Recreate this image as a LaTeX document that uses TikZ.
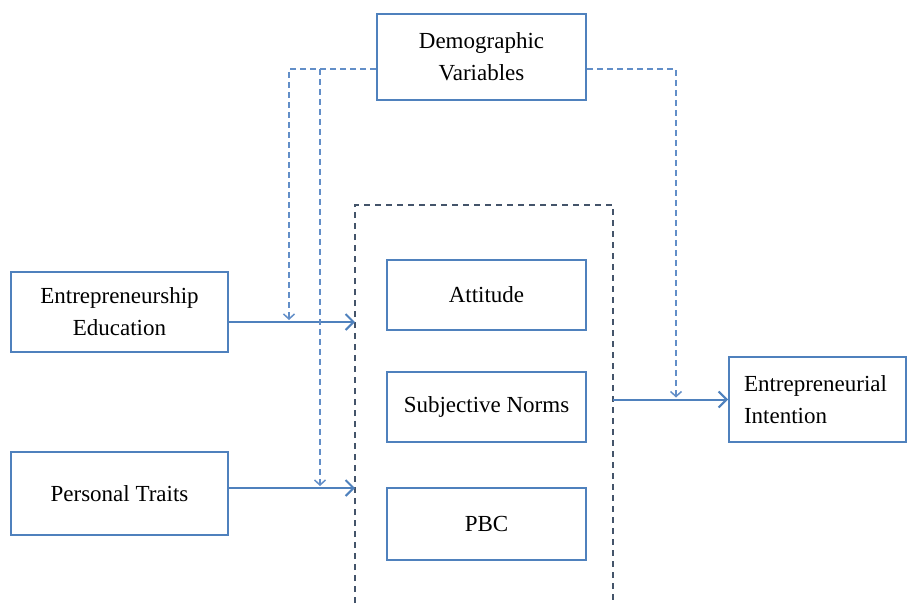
\documentclass[tikz,border=0pt]{standalone}
\usepackage{fontspec}
\setmainfont{Liberation Serif}
\usetikzlibrary{arrows.meta}
\definecolor{boxblue}{RGB}{79,129,189}
\definecolor{linkblue}{RGB}{98,142,200}
\definecolor{slate}{RGB}{68,84,106}
\tikzset{ %inner sep = 0,
  {box/.style} ={draw=boxblue, line width=2pt, fill=white,
                 font=\fontsize{23}{32}\selectfont, align=center, inner sep=0},
  {factor/.style} ={box, minimum width=199pt, minimum height=70pt},
  {flow/.style} ={draw=boxblue, line width=2pt,
                  -{Straight Barb[length=8pt,width=16pt,line width=2pt]}},
  {control/.style} ={draw=linkblue, line width=1.5pt, dash pattern=on 6pt off 4pt,
                     -{Straight Barb[length=5pt,width=11pt,line width=1.5pt]}},
  {frame/.style} ={draw=slate, line width=2pt, dash pattern=on 6pt off 5pt},
}
\begin{document}
\begin{tikzpicture}[x=1pt,y=-1pt]
\useasboundingbox (0,0) rectangle (907,603);
% the dashed frame round the three factors
\draw[frame] (355,603) -- (355,205) -- (613,205) -- (613,603);
\coordinate (eduIn) at (355,322);
\coordinate (traitsIn) at (355,488);
\coordinate (frameOut) at (613,399.5);
\coordinate (eduTie) at (289,320);
\coordinate (traitsTie) at (320,486);
\coordinate (outTie) at (676,397.5);
\coordinate (splitTop) at (320,69);

\node[box, minimum width=209pt, minimum height=86pt] (demo) at (481.5,57) {Demographic\\Variables};
\node[box, minimum width=217pt, minimum height=80pt] (edu) at (119.5,312) {Entrepreneurship\\Education};
\node[box, minimum width=217pt, minimum height=83pt] (traits) at (119.5,493.5) {Personal Traits};
\node[factor] (att) at (486.5,295) {Attitude};
\node[factor] (norms) at (486.5,407) {Subjective Norms};
\node[factor, minimum height=72pt] (pbc) at (486.5,524) {PBC};
\node[box, minimum width=177pt, minimum height=85pt, align=left,
      text width=147pt] (intent) at (817.5,399.5) {Entrepreneurial\\Intention};

\draw[flow] (edu.east |- eduIn) -- (eduIn);
\draw[flow] (traits.east |- traitsIn) -- (traitsIn);
\draw[flow] (frameOut) -- (intent.west);

\draw[control] (demo.west |- splitTop) -| (eduTie);
\draw[control] (splitTop) -- (traitsTie);
\draw[control] (demo.east |- splitTop) -| (outTie);
\end{tikzpicture}
\end{document}
